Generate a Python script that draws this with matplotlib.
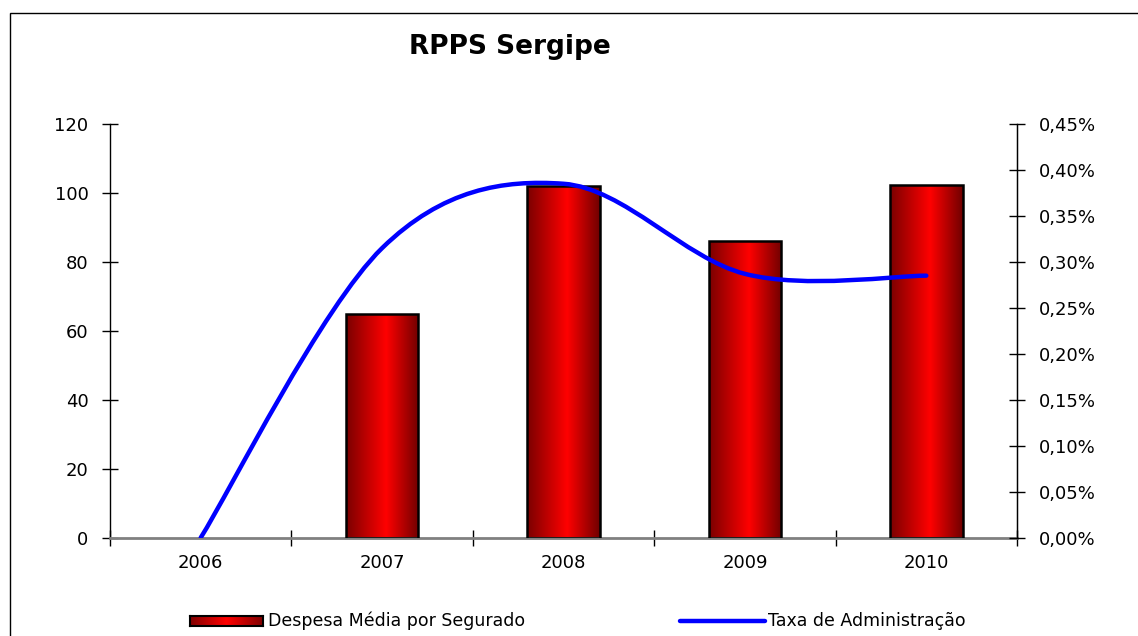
import matplotlib
matplotlib.use("Agg")
import matplotlib.pyplot as plt
import numpy as np
from matplotlib.colors import LinearSegmentedColormap
from matplotlib.path import Path
from matplotlib.patches import PathPatch, Rectangle
from matplotlib.lines import Line2D
from matplotlib.ticker import FuncFormatter

# data
anos = ['2006', '2007', '2008', '2009', '2010']
despesa = [0, 65, 102, 86.2, 102.4]          # Despesa Média por Segurado (eixo esquerdo)
taxa = [0.0, 0.315, 0.385, 0.287, 0.285]     # Taxa de Administração em % (eixo direito)

plt.rcParams['font.family'] = ['DejaVu Sans']

W, H = 1138, 636
fig = plt.figure(figsize=(W / 100, H / 100), dpi=100)
fig.patch.set_facecolor('white')

# moldura externa (cortada na direita e embaixo, como no original)
fig.patches.append(Rectangle((10 / W, -0.1), 2, 1 + 0.1 - 13 / H, transform=fig.transFigure,
                             fill=False, edgecolor='black', linewidth=1.0))

ax = fig.add_axes([110 / W, 1 - 537.7 / H, 907 / W, (537.7 - 124) / H])
ax2 = ax.twinx()

x = np.arange(len(anos))

# degrade vermelho das barras
cmap = LinearSegmentedColormap.from_list('vermelho', [(0, '#7a0000'), (0.55, '#ff0000'), (1, '#700000')])
grad = np.linspace(0, 1, 256).reshape(1, -1)

bars = ax.bar(x, despesa, width=0.40, color='none', edgecolor='black', linewidth=1.8, zorder=3)
for b in bars:
    if b.get_height() <= 0:
        b.set_linewidth(0)
        continue
    x0, w, h = b.get_x(), b.get_width(), b.get_height()
    im = ax.imshow(grad, cmap=cmap, aspect='auto', extent=[x0, x0 + w, 0, h], zorder=2)
    im.set_clip_path(b)

ax.set_xlim(-0.5, len(anos) - 0.5)
ax.set_ylim(0, 120)
ax2.set_ylim(0, 0.45)

# linha suavizada (estilo Excel, bezier entre os pontos)
pts = list(zip(x.astype(float), taxa))
verts = [pts[0]]
codes = [Path.MOVETO]
n = len(pts)
for i in range(n - 1):
    p_prev = pts[i - 1] if i > 0 else pts[i]
    p0 = pts[i]
    p1 = pts[i + 1]
    p_next = pts[i + 2] if i + 2 < n else pts[i + 1]
    c1 = (p0[0] + (p1[0] - p_prev[0]) / 6, p0[1] + (p1[1] - p_prev[1]) / 6)
    c2 = (p1[0] - (p_next[0] - p0[0]) / 6, p1[1] - (p_next[1] - p0[1]) / 6)
    verts += [c1, c2, p1]
    codes += [Path.CURVE4, Path.CURVE4, Path.CURVE4]
ax2.add_patch(PathPatch(Path(verts, codes), fill=False, edgecolor='#0000ff', linewidth=3.2,
                        capstyle='round', joinstyle='round', zorder=5))
ax2.set_zorder(ax.get_zorder() + 1)
ax2.patch.set_visible(False)

# eixos
for a in (ax, ax2):
    a.spines['top'].set_visible(False)
ax.spines['left'].set_linewidth(1.0)
ax.spines['bottom'].set_color('#808080')
ax.spines['bottom'].set_linewidth(2.0)
ax2.spines['bottom'].set_visible(False)
ax2.spines['left'].set_visible(False)
ax2.spines['right'].set_linewidth(1.0)

ax.set_yticks(range(0, 121, 20))
ax.tick_params(axis='y', direction='inout', length=11, width=1, pad=10, labelsize=13)
ax2.set_yticks(np.arange(0, 0.451, 0.05))
ax2.yaxis.set_major_formatter(FuncFormatter(lambda v, p: f'{v:.2f}%'.replace('.', ',')))
ax2.tick_params(axis='y', direction='inout', length=11, width=1, pad=10, labelsize=13)

ax.set_xticks(x)
ax.set_xticklabels(anos)
ax.set_xticks(np.arange(-0.5, len(anos), 1.0), minor=True)
ax.tick_params(axis='x', which='major', length=0, pad=12, labelsize=13)
ax.tick_params(axis='x', which='minor', direction='inout', length=11, width=1, color='black')

fig.text(510 / W, 1 - 47 / H, 'RPPS Sergipe', ha='center', va='center', fontsize=19, fontweight='bold')

# legenda manual
ly = 1 - 621 / H
sw = fig.add_axes([190 / W, 1 - 626 / H, 73 / W, 10 / H])
sw.imshow(grad, cmap=LinearSegmentedColormap.from_list('l', ['#800000', '#ff0000', '#800000']), aspect='auto')
sw.set_xticks([])
sw.set_yticks([])
for s in sw.spines.values():
    s.set_linewidth(1.5)
fig.text(268 / W, ly, 'Despesa Média por Segurado', ha='left', va='center', fontsize=12.5)
fig.lines.append(Line2D([680 / W, 765 / W], [ly, ly], transform=fig.transFigure,
                        color='#0000ff', linewidth=3.2, solid_capstyle='round'))
fig.text(768 / W, ly, 'Taxa de Administração', ha='left', va='center', fontsize=12.5)

fig.savefig('out.png', dpi=100, facecolor='white')
